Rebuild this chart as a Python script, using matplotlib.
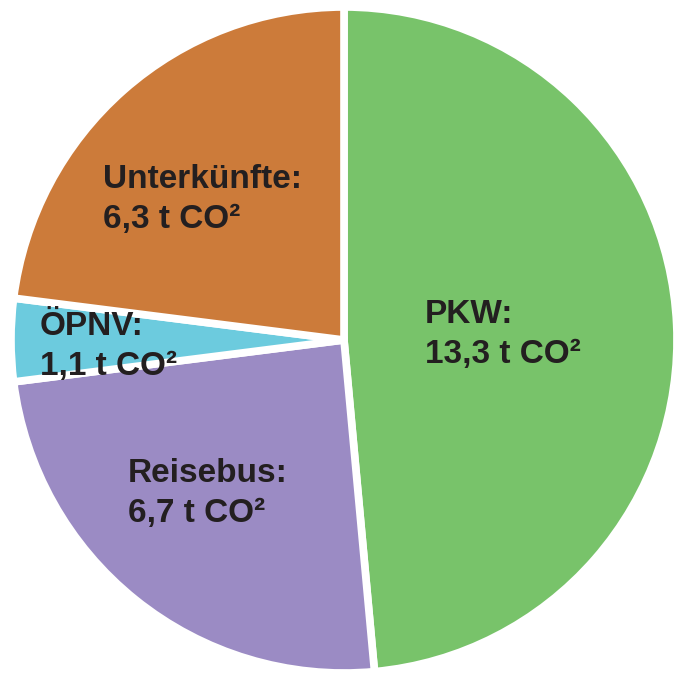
import matplotlib
matplotlib.use('Agg')
import matplotlib.pyplot as plt

plt.rcParams['font.family'] = ['Liberation Sans', 'DejaVu Sans']

categories = ['PKW', 'Reisebus', 'ÖPNV', 'Unterkünfte']
values = [13.3, 6.7, 1.1, 6.3]
value_labels = ['13,3 t CO²', '6,7 t CO²', '1,1 t CO²', '6,3 t CO²']
colors = ['#78c36a', '#9b8bc4', '#6ccbde', '#cc7b3a']

W, H = 684, 673
fig = plt.figure(figsize=(W / 100, H / 100), dpi=100)
ax = fig.add_axes([0, 0, 1, 1])

ax.pie(values, colors=colors, startangle=90, counterclock=False,
       center=(344, H - 340), radius=333,
       wedgeprops=dict(edgecolor='white', linewidth=5.5))

# pie() resets limits, so set the pixel frame afterwards
ax.set_xlim(0, W)
ax.set_ylim(0, H)
ax.set_aspect('auto')
ax.axis('off')

# text anchors (left x, baseline of first line, from top in px)
text_pos = [(425, 323), (128, 482), (40, 335), (103, 188)]
line_gap = 40
for name, lab, (tx, ty) in zip(categories, value_labels, text_pos):
    ax.text(tx, H - ty, name + ':', fontsize=24, fontweight='bold',
            color='#231f20', ha='left', va='baseline')
    ax.text(tx, H - ty - line_gap, lab, fontsize=24, fontweight='bold',
            color='#231f20', ha='left', va='baseline')

fig.savefig('out.png', dpi=100)
